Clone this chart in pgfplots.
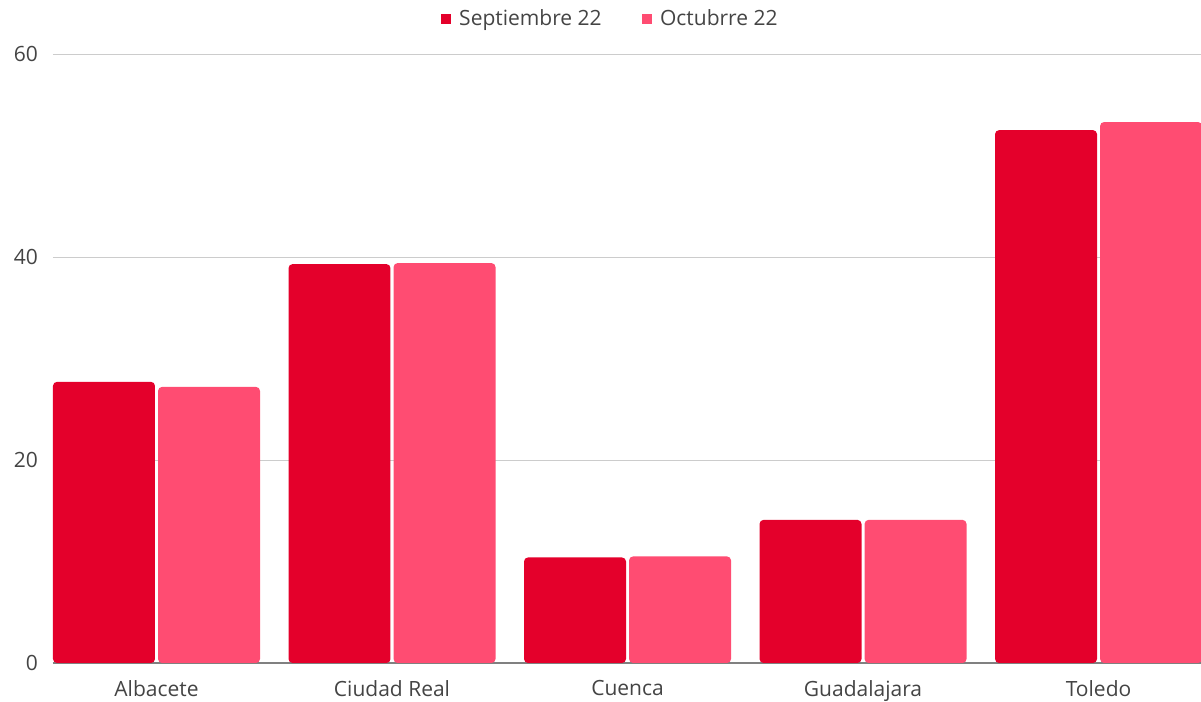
\documentclass[border=0pt]{standalone}
\usepackage{fontspec}
\setmainfont{Open Sans}
\usepackage{pgfplots}
\pgfplotsset{compat=1.18}
\definecolor{sep}{HTML}{E4002B}
\definecolor{oct}{HTML}{FF4C72}
\definecolor{txt}{HTML}{444444}
\begin{document}
\begin{tikzpicture}
\path[use as bounding box] (-26.5pt,-19.5pt) rectangle (574pt,331.5pt);
\begin{axis}[
  scale only axis, width=574pt, height=304.5pt,
  xmin=-0.4395, xmax=4.435, ymin=0, ymax=60,
  ybar, bar width=0.433,
  xtick={0,1,2,3,4},
  xticklabels={Albacete,Ciudad Real,Cuenca,Guadalajara,Toledo},
  ytick={0,20,40,60},
  ymajorgrids, major grid style={draw=black!20, line width=0.5pt},
  axis x line*=bottom, axis y line*=left,
  y axis line style={draw=none},
  x axis line style={draw=black!50, line width=0.6pt},
  major tick length=0pt,
  /pgf/number format/assume math mode=true,
  tick label style={font=\fontsize{10.5}{12}\selectfont, text=txt},
  yticklabel style={xshift=-4pt},
  xticklabel style={yshift=-5pt},
  legend style={at={(0.488,1.057)}, anchor=center, draw=none, fill=none,
    font=\fontsize{10.5}{12}\selectfont, text=txt, legend columns=2,
    /tikz/every even column/.append style={column sep=16pt},
    nodes={inner xsep=4pt}},
  legend image code/.code={\fill[#1,draw=none,sharp corners] (0pt,-2.6pt) rectangle (5.2pt,2.6pt);},
]
\addplot[fill=sep, draw=none, bar shift=-0.223, rounded corners=2pt]
  coordinates {(0,27.7) (1,39.3) (2,10.4) (3,14.1) (4,52.5)};
\addlegendentry{Septiembre 22}
\addplot[fill=oct, draw=none, bar shift=0.223, rounded corners=2pt]
  coordinates {(0,27.2) (1,39.4) (2,10.5) (3,14.1) (4,53.3)};
\addlegendentry{Octubrre 22}
\end{axis}
\end{tikzpicture}
\end{document}
